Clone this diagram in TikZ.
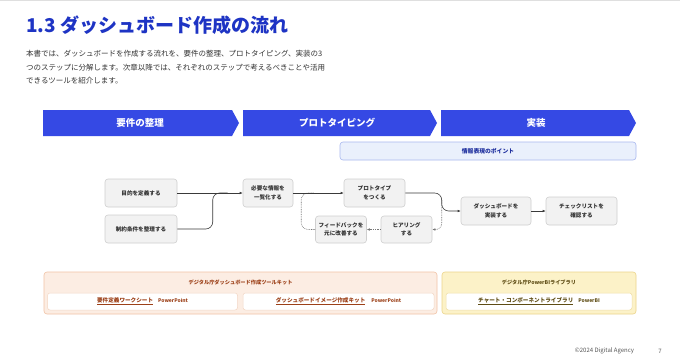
\documentclass[tikz,border=0pt]{standalone}
\usepackage{fontspec}
\setmainfont{Noto Sans CJK JP}
\usetikzlibrary{arrows.meta,calc}
\definecolor{titleblue}{HTML}{1E34C4}
\definecolor{chevblue}{HTML}{3549E4}
\definecolor{bodytext}{HTML}{333333}
\definecolor{boxfill}{HTML}{F2F2F2}
\definecolor{boxborder}{HTML}{CFCFCF}
\definecolor{linecol}{HTML}{3A3A3A}
\definecolor{dotcol}{HTML}{777777}
\definecolor{infofill}{HTML}{EAF0FC}
\definecolor{infoborder}{HTML}{A9B8EF}
\definecolor{infotext}{HTML}{1E2F9E}
\definecolor{orfill}{HTML}{FCEDE3}
\definecolor{orborder}{HTML}{F1C3A6}
\definecolor{ortext}{HTML}{9C4018}
\definecolor{orinner}{HTML}{F3D6C4}
\definecolor{yefill}{HTML}{FCF2C8}
\definecolor{yeborder}{HTML}{ECD58B}
\definecolor{yetext}{HTML}{5E4C14}
\definecolor{yeinner}{HTML}{F0DFA6}
\definecolor{footgray}{HTML}{555555}
\begin{document}
\begin{tikzpicture}[x=1pt,y=-1pt,
  flowbox/.style={draw=boxborder, fill=boxfill, rounded corners=3pt, line width=0.6pt,
    font=\bfseries\fontsize{5.6}{8.4}\selectfont, text=bodytext, align=center, inner sep=0pt},
  chevtext/.style={font=\bfseries\fontsize{9.5}{11}\selectfont, text=white, inner sep=0pt},
  bodyline/.style={anchor=west, font=\fontsize{7.5}{9}\selectfont, text=bodytext, inner sep=0pt},
  arr/.style={draw=linecol, line width=0.6pt, -{Latex[length=3pt,width=2.6pt]}},
  plainline/.style={draw=linecol, line width=0.6pt},
  fbline/.style={draw=dotcol, line width=0.6pt, dash pattern=on 0.8pt off 0.9pt},
  panel/.style={rounded corners=3pt, line width=0.6pt, inner sep=0pt},
  inner/.style={draw, fill=white, rounded corners=2.5pt, line width=0.5pt, inner sep=0pt,
    minimum height=17pt},
  paneltitle/.style={font=\bfseries\fontsize{5.2}{6}\selectfont, inner sep=0pt},
  linktext/.style={font=\bfseries\fontsize{5.6}{6.5}\selectfont, inner sep=0pt}
]
\useasboundingbox (0,0) rectangle (680,362);
\fill[white] (0,0) rectangle (680,362);
\draw[gray!25, line width=1pt] (0,0.5) -- (680,0.5);

% title and text
\node[anchor=west, font=\bfseries\fontsize{19}{22}\selectfont, text=titleblue, inner sep=0pt] (title) at (26,25) {1.3 ダッシュボード作成の流れ};
\node[bodyline] (p1) at (26,54) {本書では、ダッシュボードを作成する流れを、要件の整理、プロトタイピング、実装の3};
\node[bodyline] (p2) at (26,67.5) {つのステップに分解します。次章以降では、それぞれのステップで考えるべきことや活用};
\node[bodyline] (p3) at (26,81) {できるツールを紹介します。};

% chevrons
\fill[chevblue] (43,110) -- (232,110) -- (239,123) -- (232,136) -- (43,136) -- cycle;
\fill[chevblue] (243,110) -- (430,110) -- (437,123) -- (430,136) -- (243,136) -- cycle;
\fill[chevblue] (441,110) -- (629,110) -- (636,123) -- (629,136) -- (441,136) -- cycle;
\node[chevtext] (c1) at (140,123) {要件の整理};
\node[chevtext] (c2) at (337,123) {プロトタイピング};
\node[chevtext] (c3) at (536,123) {実装};

% info box
\node[draw=infoborder, fill=infofill, rounded corners=3pt, line width=0.6pt, minimum width=296pt, minimum height=18pt, inner sep=0pt,
  font=\bfseries\fontsize{5.8}{7}\selectfont, text=infotext] (info) at (488,151) {情報表現のポイント};

% flow nodes
\node[flowbox, minimum width=72pt, minimum height=28pt] (mokuteki) at (141,193) {目的を定義する};
\node[flowbox, minimum width=72pt, minimum height=28pt] (seiyaku) at (141,229) {制約条件を整理する};
\node[flowbox, minimum width=50pt, minimum height=28pt] (hitsuyo) at (268,193) {必要な情報を\\一覧化する};
\node[flowbox, minimum width=61pt, minimum height=28pt] (proto) at (374.5,193) {プロトタイプ\\をつくる};
\node[flowbox, minimum width=51pt, minimum height=27pt] (fb) at (341,229.5) {フィードバックを\\元に改善する};
\node[flowbox, minimum width=51pt, minimum height=27pt] (hear) at (406.5,229.5) {ヒアリング\\する};
\node[flowbox, minimum width=70pt, minimum height=28pt] (dash) at (496,211) {ダッシュボードを\\実装する};
\node[flowbox, minimum width=71pt, minimum height=28pt] (check) at (581.5,211) {チェックリストを\\確認する};

% connectors
\draw[plainline, rounded corners=7pt] (seiyaku.east) -| ($(hitsuyo.west)+(-30,0)$) -- ($(hitsuyo.west)+(-15,0)$);
\draw[arr] (mokuteki.east) -- (hitsuyo.west);
\draw[fbline, rounded corners=7pt] (fb.west) -- ++(-14,0) |- ($(proto.west)+(-30,0)$);
\draw[arr] (hitsuyo.east) -- (proto.west);
\draw[arr, rounded corners=7pt] (proto.east) -| ($(dash.west)+(-19,0)$) -- (dash.west);
\draw[fbline, rounded corners=6pt, -{Latex[length=3pt,width=2.6pt]}] ($(dash.west)+(-19,-11)$) |- (hear.east);
\draw[fbline, -{Latex[length=3pt,width=2.6pt]}] (hear.west) -- (fb.east);
\draw[arr] (dash.east) -- (check.west);

% bottom panels
\node[panel, draw=orborder, fill=orfill, minimum width=393pt, minimum height=42pt] (kit) at (240.5,293) {};
\node[paneltitle, text=ortext] (kittitle) at (240.5,282) {デジタル庁ダッシュボード作成ツールキット};
\node[inner, draw=orinner, minimum width=190pt] (kit1) at (142.5,301.5) {};
\node[inner, draw=orinner, minimum width=191pt] (kit2) at (338.5,301.5) {};
\node[linktext, text=ortext] (kit1t) at (142.5,301.5) {\underline{要件定義ワークシート}\hspace{5pt}{\fontsize{5}{6}\selectfont PowerPoint}};
\node[linktext, text=ortext] (kit2t) at (338.5,301.5) {\underline{ダッシュボードイメージ作成キット}\hspace{6pt}{\fontsize{5}{6}\selectfont PowerPoint}};

\node[panel, draw=yeborder, fill=yefill, minimum width=194pt, minimum height=42pt] (lib) at (539,293) {};
\node[paneltitle, text=yetext] (libtitle) at (539,282) {デジタル庁PowerBIライブラリ};
\node[inner, draw=yeinner, minimum width=186pt] (lib1) at (539,301.5) {};
\node[linktext, text=yetext] (lib1t) at (539,301.5) {\underline{チャート・コンポーネントライブラリ}\hspace{5pt}{\fontsize{5}{6}\selectfont PowerBI}};

% footer
\node[font=\fontsize{6}{7}\selectfont, text=footgray, inner sep=0pt] (copy) at (604.5,351) {©2024 Digital Agency};
\node[font=\fontsize{6}{7}\selectfont, text=footgray, inner sep=0pt] (page) at (660,351) {7};
\end{tikzpicture}
\end{document}
